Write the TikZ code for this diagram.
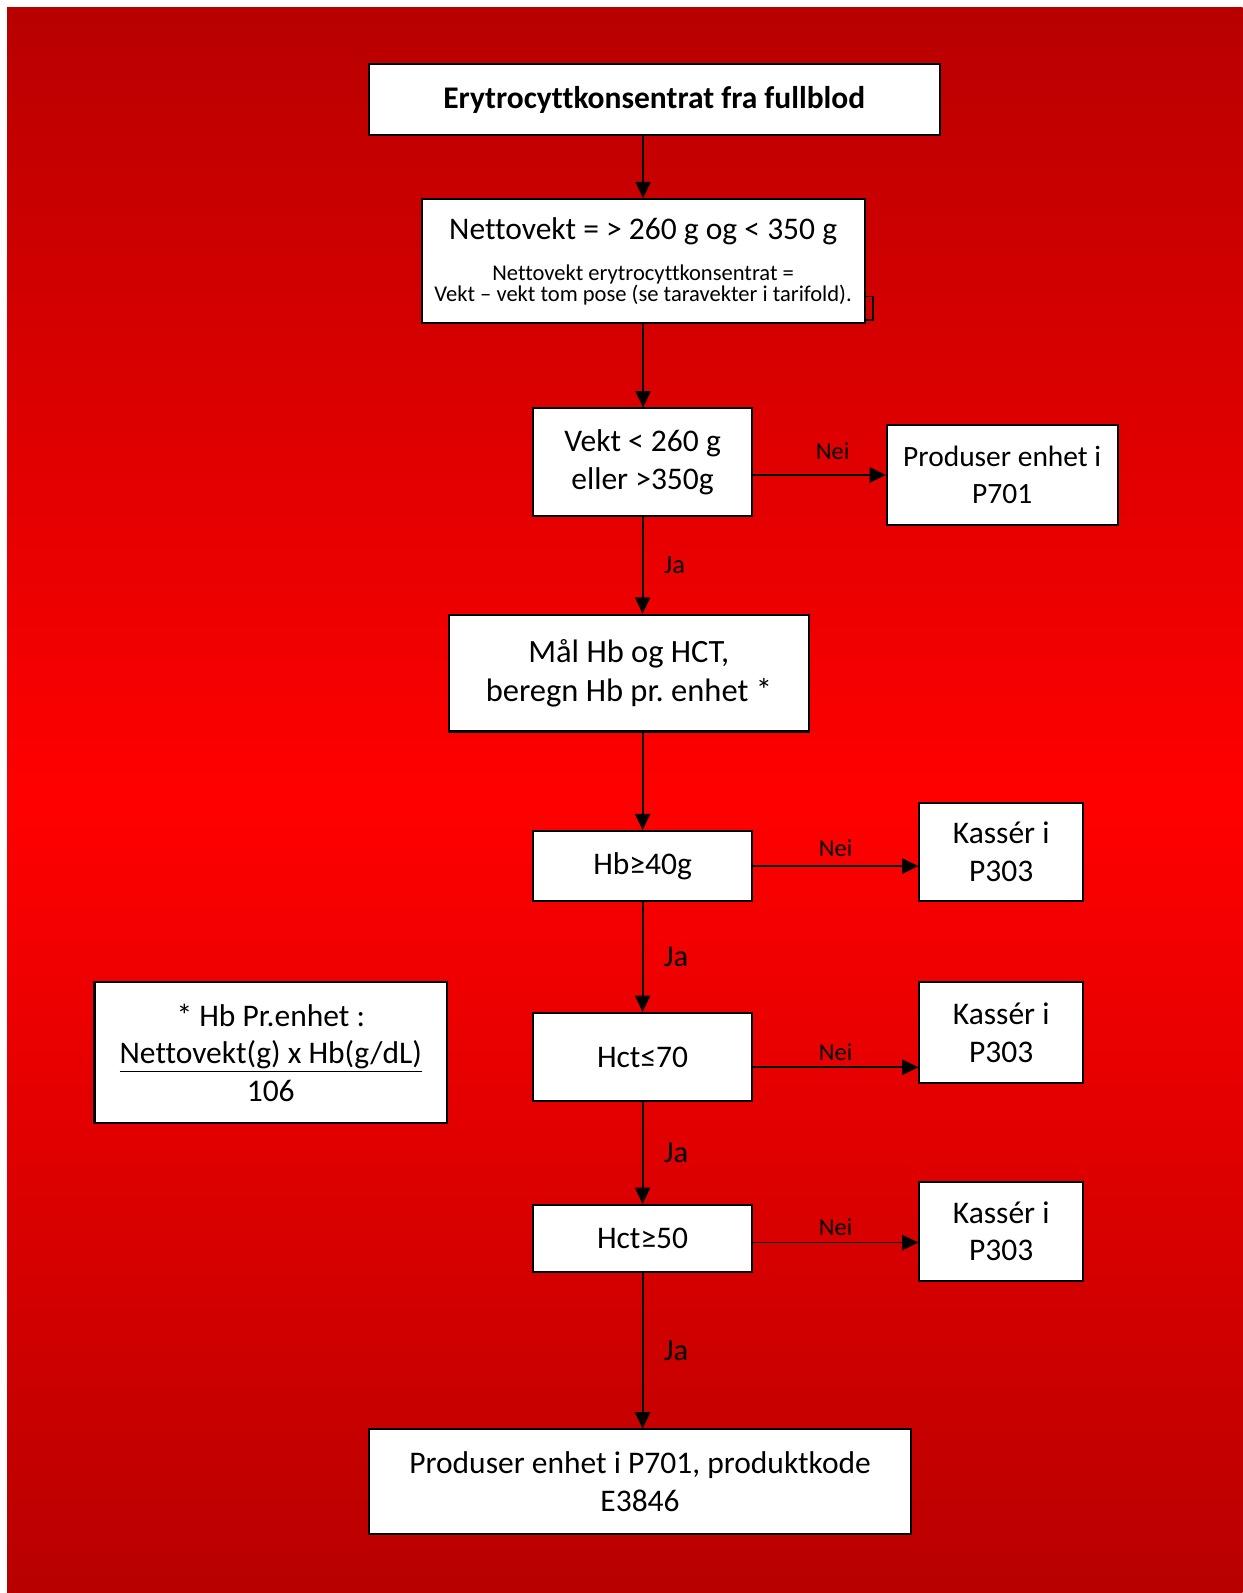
\documentclass[tikz,border=0pt]{standalone}
\usepackage{fontspec}
\setmainfont{Carlito}[Ligatures=NoCommon]
\usepackage{xcolor}
\usetikzlibrary{arrows.meta,positioning}

\definecolor{redtop}{RGB}{184,0,0}
\definecolor{redmid}{RGB}{255,0,0}
\newcommand{\mainfnt}{\fontsize{15.5}{18.5}\selectfont}
\newcommand{\smallfnt}{\fontsize{11.1}{10}\selectfont}
\frenchspacing

\tikzset{
  box/.style={draw=black, line width=1pt, fill=white, align=center, inner sep=2pt, font=\mainfnt},
  arr/.style={-{Triangle[length=8pt,width=7.5pt]}, line width=0.9pt},
  nei/.style={font=\fontsize{12}{14}\selectfont, inner sep=1pt},
  ja/.style={font=\fontsize{15}{17}\selectfont, inner sep=1pt}
}

\begin{document}
\begin{tikzpicture}[x=0.5pt,y=-0.5pt]

% Background
\fill[white] (0,0) rectangle (1223,1568);
\shade[top color=redtop, bottom color=redtop, middle color=redmid] (3.5pt,-3.5pt) rectangle (611.5pt,-784pt);
\useasboundingbox (0,0) rectangle (1223,1568);

% Draw boxes
\node[box, minimum width=281pt, minimum height=35pt] (start) at (644,98) {\textbf{Erytrocyttkonsentrat fra fullblod}};
\node[box, font=\smallfnt, minimum width=218pt, minimum height=61pt] (netto) at (633,257)
  {{\mainfnt Nettovekt = > 260 g og < 350 g}\\[9pt] Nettovekt erytrocyttkonsentrat =\\ Vekt – vekt tom pose (se taravekter i tarifold).};
\node[box, minimum width=107.5pt, minimum height=53pt] (vekt) at (632.5,455) {Vekt < 260 g\\ eller >350g};
\node[box, font=\fontsize{14.5}{18.5}\selectfont, minimum width=113.5pt, minimum height=49.5pt] (prod1) at (986.5,467.5) {Produser enhet i\\ P701};
\node[box, font=\fontsize{16}{19}\selectfont, minimum width=177pt, minimum height=57.5pt] (maal) at (619,662.5) {Mål Hb og HCT,\\ beregn Hb pr. enhet *};
\node[box, minimum width=107.5pt, minimum height=34.5pt] (hb) at (632.5,852.5) {Hb≥40g};
\node[box, minimum width=80.5pt, minimum height=48.5pt] (kass1) at (985.5,838.5) {Kassér i\\ P303};
\node[box, minimum width=107.5pt, minimum height=43.5pt] (hctmax) at (632.5,1040.5) {Hct≤70};
\node[box, minimum width=80.5pt, minimum height=49.5pt] (kass2) at (985.5,1016.5) {Kassér i\\ P303};
\node[box, minimum width=107.5pt, minimum height=33pt] (hctmin) at (632.5,1219) {Hct≥50};
\node[box, minimum width=80.5pt, minimum height=49pt] (kass3) at (985.5,1212) {Kassér i\\ P303};
\node[box, minimum width=267pt, minimum height=51.5pt] (prod2) at (630,1458.5) {Produser enhet i P701, produktkode\\ E3846};
\node[box, minimum width=173.5pt, minimum height=69pt] (formel) at (266.5,1036)
  {* Hb Pr.enhet :\\ \underline{Nettovekt(g) x Hb(g/dL)}\\ 106};

% Small mark beside the weight box
\draw[line width=0.8pt] ([yshift=2pt]netto.south east) rectangle ([xshift=3.5pt,yshift=13.5pt]netto.south east);

% Draw arrows
\draw[arr] (start.south -| netto.north) -- (netto.north);
\draw[arr] (netto.south) -- (netto.south |- vekt.north);
\draw[arr] (prod1.west -| vekt.east) -- (prod1.west) node[pos=0.6, above=6pt, nei] {Nei};
\draw[arr] (vekt.south) -- (vekt.south |- maal.north) node[midway, right=9pt, nei, font=\fontsize{13}{15}\selectfont] {Ja};
\draw[arr] (hb.north |- maal.south) -- (hb.north);
\draw[arr] (hb.east) -- (hb.east -| kass1.west) node[midway, above=3pt, nei] {Nei};
\draw[arr] (hb.south) -- (hctmax.north) node[midway, right=9pt, ja] {Ja};
\coordinate (nei2) at ([yshift=-5pt]hctmax.east);
\draw[arr] (nei2) -- (nei2 -| kass2.west) node[midway, above=2pt, nei] {Nei};
\draw[arr] (hctmax.south) -- (hctmin.north) node[midway, right=9pt, ja] {Ja};
\coordinate (nei3) at ([yshift=-2pt]hctmin.east);
\draw[arr] (nei3) -- (nei3 -| kass3.west) node[midway, above=2pt, nei] {Nei};
\draw[arr] (hctmin.south) -- (hctmin.south |- prod2.north) node[midway, right=9pt, ja] {Ja};

\end{tikzpicture}
\end{document}
